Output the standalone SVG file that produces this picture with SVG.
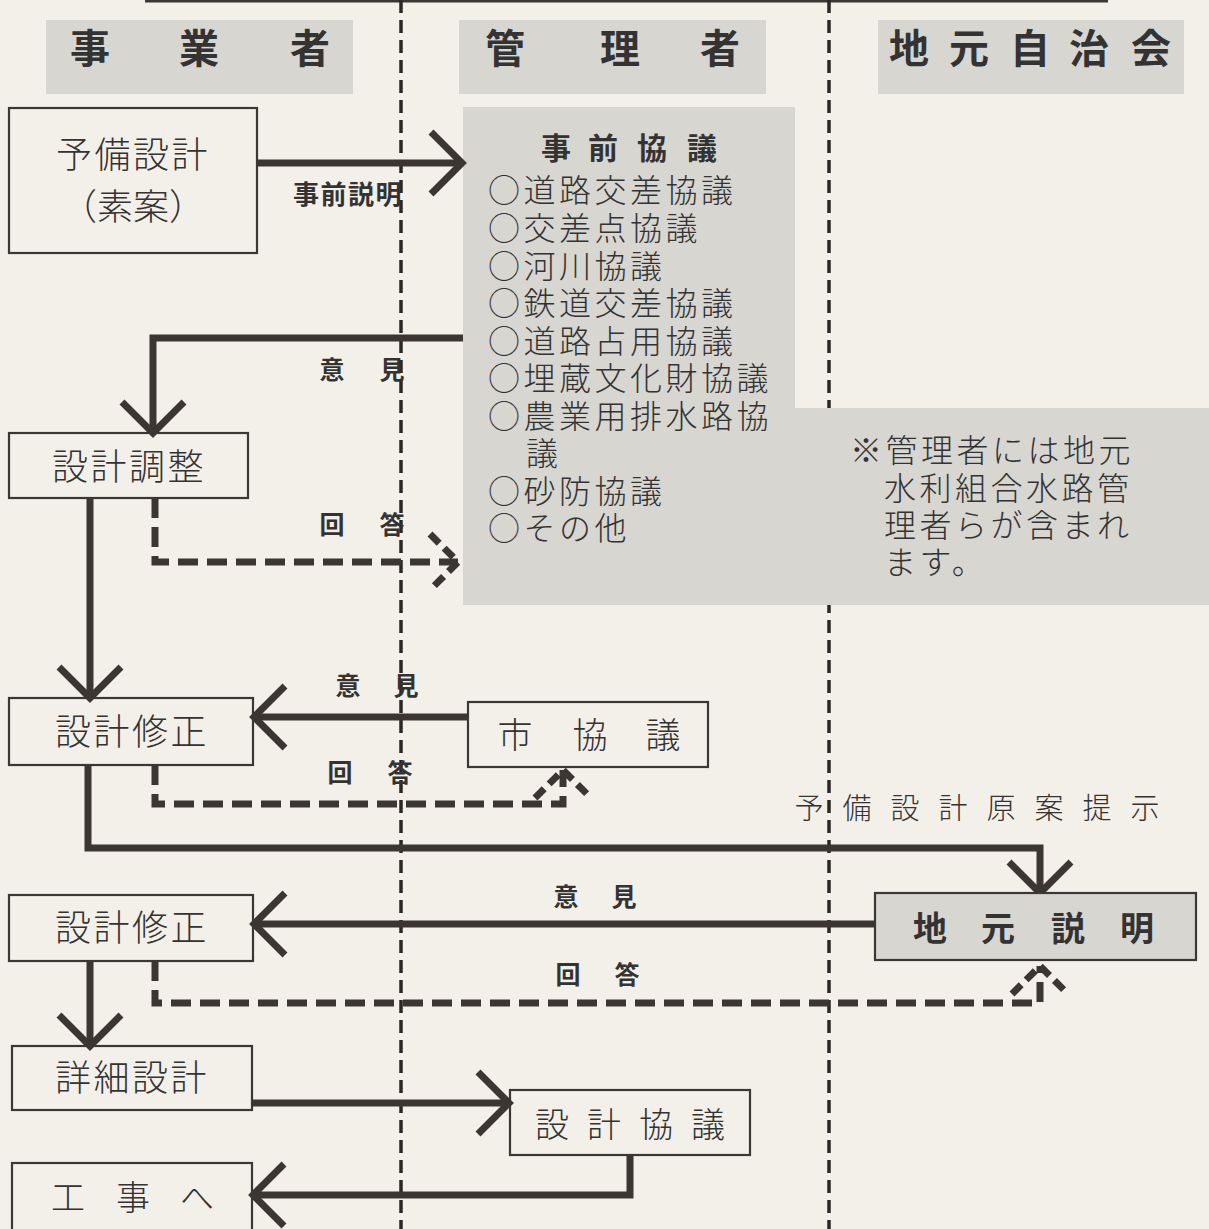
<svg xmlns="http://www.w3.org/2000/svg" width="1209" height="1229" viewBox="0 0 1209 1229">
<style>
.bg{fill:#f3f0e9}
.hdr{fill:#d7d6d1}
.hdrt{font-family:"Noto Sans CJK JP","Noto Sans CJK SC",sans-serif;font-size:40px;font-weight:bold;fill:#333;text-anchor:middle}
.box{fill:none;stroke:#3a3734;stroke-width:2.2}
.gbox{fill:#d7d6d1;stroke:#3a3734;stroke-width:2.2}
.nt{font-family:"Noto Sans CJK JP","Noto Sans CJK SC",sans-serif;font-size:36px;font-weight:300;fill:#333;letter-spacing:2.5px}
.ntc{font-family:"Noto Sans CJK JP","Noto Sans CJK SC",sans-serif;font-size:35px;font-weight:300;fill:#333;text-anchor:middle}
.lst{font-family:"Noto Sans CJK JP","Noto Sans CJK SC",sans-serif;font-size:32px;font-weight:300;fill:#333;letter-spacing:3.5px}
.lbl{font-family:"Noto Sans CJK JP","Noto Sans CJK SC",sans-serif;font-size:25px;font-weight:bold;fill:#333;text-anchor:middle}
.div{stroke:#2a2725;stroke-width:3.5;stroke-dasharray:13 7;fill:none}
.c{fill:none;stroke:#3b3632;stroke-width:7}
.d{fill:none;stroke:#3b3632;stroke-width:7;stroke-dasharray:20 9}
</style>
<defs>
<marker id="ah" markerUnits="userSpaceOnUse" viewBox="-40 -40 80 80" markerWidth="80" markerHeight="80" refX="0" refY="0" orient="auto">
<path d="M-31,-31 L0,0 L-31,31" fill="none" stroke="#3b3632" stroke-width="7"/>
</marker>
<marker id="ahd" markerUnits="userSpaceOnUse" viewBox="-40 -40 80 80" markerWidth="80" markerHeight="80" refX="0" refY="0" orient="auto">
<path d="M-28,-28 L0,0 L-28,28" fill="none" stroke="#3b3632" stroke-width="7" stroke-dasharray="13 7"/>
</marker>
</defs>
<rect class="bg" x="0" y="0" width="1209" height="1229"/>
<line x1="145" y1="1" x2="1108" y2="1" stroke="#3a3734" stroke-width="3"/>

<g id="headers">
<rect class="hdr" x="46" y="20" width="307" height="74"/>
<text class="hdrt" x="90 199 310" y="63">事業者</text>
<rect class="hdr" x="459" y="20" width="307" height="74"/>
<text class="hdrt" x="505 620 720" y="63">管理者</text>
<rect class="hdr" x="878" y="20" width="306" height="74"/>
<text class="hdrt" x="909 969 1030 1089 1151" y="63">地元自治会</text>
</g>

<g id="lanes">
<line class="div" x1="401" y1="0" x2="401" y2="1229"/>
<line class="div" x1="829" y1="0" x2="829" y2="1229"/>
</g>

<g id="prior-consultation">
<path d="M463,107 H795 V408 H1209 V605 H463 Z" fill="#d7d6d1"/>
<text class="lbl" style="font-size:30px" x="556 603 652 702" y="159">事前協議</text>
<text class="lst"><tspan x="488" y="202">○道路交差協議</tspan><tspan x="488" y="240">○交差点協議</tspan><tspan x="488" y="278">○河川協議</tspan><tspan x="488" y="315">○鉄道交差協議</tspan><tspan x="488" y="353">○道路占用協議</tspan><tspan x="488" y="390">○埋蔵文化財協議</tspan><tspan x="488" y="428">○農業用排水路協</tspan><tspan x="526" y="465">議</tspan><tspan x="488" y="503">○砂防協議</tspan><tspan x="488" y="540">○その他</tspan></text>
</g>

<g id="note">
<text class="lst"><tspan x="850" y="462">※管理者には地元</tspan><tspan x="884" y="500">水利組合水路管</tspan><tspan x="884" y="537">理者らが含まれ</tspan><tspan x="884" y="574">ます。</tspan></text>
</g>

<g id="connectors">
<path class="c" d="M257,163 H462" marker-end="url(#ah)"/>
<path class="c" d="M463,338 H153 V433" marker-end="url(#ah)"/>
<path class="c" d="M90,498 V698" marker-end="url(#ah)"/>
<path class="c" d="M468,717 H254" marker-end="url(#ah)"/>
<path class="c" d="M88,765 V848 H1040 V893" marker-end="url(#ah)"/>
<path class="c" d="M875,924 H254" marker-end="url(#ah)"/>
<path class="c" d="M90,961 V1046" marker-end="url(#ah)"/>
<path class="c" d="M252,1103 H509" marker-end="url(#ah)"/>
<path class="c" d="M630,1155 V1195 H253" marker-end="url(#ah)"/>
<path class="d" d="M155,498 V562 H458" marker-end="url(#ahd)"/>
<path class="d" d="M155,765 V804 H563 V770" marker-end="url(#ahd)"/>
<path class="d" d="M155,961 V1003 H1040 V966" marker-end="url(#ahd)"/>
<text class="lbl" x="348" y="204" style="font-size:26px;letter-spacing:1.5px">事前説明</text>
<text class="lbl" x="332 392" y="379">意見</text>
<text class="lbl" x="332 392" y="534">回答</text>
<text class="lbl" x="348 406" y="695">意見</text>
<text class="lbl" x="340 400" y="782">回答</text>
<text class="ntc" style="font-size:29px" x="809 857 905 953 1001 1049 1097 1145" y="819">予備設計原案提示</text>
<text class="lbl" x="566 624" y="906">意見</text>
<text class="lbl" x="568 627" y="984">回答</text>
</g>

<g id="n-prelim">
<rect class="box" x="9" y="108" width="248" height="145"/>
<text class="nt" x="56" y="168">予備設計</text>
<text class="ntc" style="font-size:36px" x="133" y="220">（素案）</text>
</g>
<g id="n-adjust">
<rect class="box" x="9" y="433" width="239" height="65"/>
<text class="nt" x="52" y="480">設計調整</text>
</g>
<g id="n-revise1">
<rect class="box" x="9" y="698" width="244" height="67"/>
<text class="nt" x="55" y="745">設計修正</text>
</g>
<g id="n-city">
<rect class="box" x="468" y="702" width="240" height="65"/>
<text class="ntc" x="515 590 663" y="748">市協議</text>
</g>
<g id="n-local">
<rect class="gbox" x="875" y="893" width="321" height="67"/>
<text class="lbl" style="font-size:34px" x="930 998 1068 1137" y="941">地元説明</text>
</g>
<g id="n-revise2">
<rect class="box" x="9" y="895" width="244" height="66"/>
<text class="nt" x="55" y="941">設計修正</text>
</g>
<g id="n-detail">
<rect class="box" x="12" y="1046" width="240" height="64"/>
<text class="nt" x="55" y="1091">詳細設計</text>
</g>
<g id="n-design-consult">
<rect class="box" x="510" y="1090" width="240" height="65"/>
<text class="ntc" style="font-size:34px" x="552 604 656 708" y="1137">設計協議</text>
</g>
<g id="n-construction">
<rect class="box" x="12" y="1163" width="240" height="70"/>
<text class="ntc" style="font-size:34px" x="68 133 197" y="1210">工事へ</text>
</g>
</svg>
